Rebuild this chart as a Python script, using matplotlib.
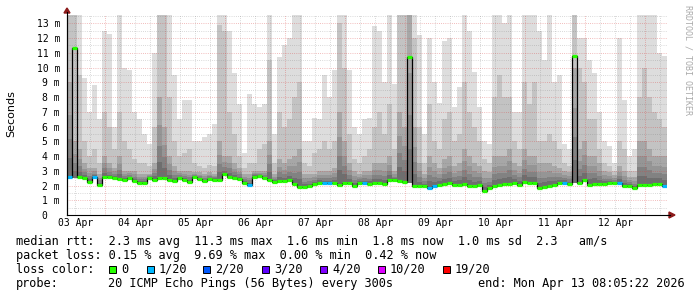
import numpy as np
import matplotlib
matplotlib.use('Agg')
import matplotlib.pyplot as plt
from matplotlib.patches import Rectangle, Polygon

# 2-hour bins, ms (120 bins = 10 days)
med = [2.6, 11.3, 2.55, 2.5, 2.25, 2.55, 2.05, 2.6, 2.55, 2.5,
       2.45, 2.4, 2.5, 2.3, 2.2, 2.15, 2.5, 2.4, 2.5, 2.5,
       2.4, 2.3, 2.5, 2.4, 2.25, 2.55, 2.45, 2.3, 2.45, 2.4,
       2.4, 2.75, 2.6, 2.5, 2.45, 2.2, 2.05, 2.6, 2.65, 2.5,
       2.4, 2.25, 2.3, 2.3, 2.35, 2.1, 1.9, 1.9, 1.95, 2.1,
       2.2, 2.15, 2.15, 2.2, 2.05, 2.2, 2.15, 2.0, 2.2, 2.15,
       2.1, 2.2, 2.2, 2.1, 2.35, 2.35, 2.3, 2.25, 10.7, 2.0,
       1.95, 1.95, 1.85, 1.95, 2.05, 2.1, 2.15, 2.05, 2.05, 2.1,
       2.0, 1.95, 2.05, 1.65, 1.8, 1.95, 2.05, 2.1, 2.1, 2.15,
       2.05, 2.25, 2.2, 2.2, 1.85, 1.9, 2.0, 2.05, 2.15, 2.2,
       2.1, 10.8, 2.2, 2.35, 2.05, 2.1, 2.1, 2.1, 2.15, 2.15,
       2.2, 2.0, 1.95, 1.8, 2.05, 2.05, 2.05, 2.1, 2.1, 1.95]

top = [13.6, 13.6, 13.6, 9.3, 7.0, 8.8, 6.5, 12.5, 12.3, 6.0,
       13.6, 10.0, 9.8, 7.0, 6.5, 5.5, 4.8, 11.0, 13.6, 13.6,
       13.6, 9.5, 6.5, 7.8, 7.8, 5.0, 5.0, 5.3, 5.5, 6.2,
       13.6, 13.6, 12.5, 9.6, 7.5, 4.2, 8.2, 7.5, 7.3, 7.5,
       13.6, 5.5, 10.7, 11.5, 12.0, 13.6, 13.6, 5.0, 5.0, 6.6,
       6.5, 9.5, 8.0, 9.8, 13.6, 13.6, 9.8, 6.0, 5.5, 6.5,
       6.6, 12.8, 12.5, 9.0, 13.6, 8.9, 13.6, 13.6, 13.6, 13.6,
       12.2, 5.5, 12.0, 9.0, 7.6, 11.8, 12.0, 7.3, 8.7, 13.6,
       12.5, 9.7, 7.3, 5.0, 4.8, 13.6, 13.6, 13.0, 13.6, 7.0,
       7.0, 13.6, 13.6, 13.6, 12.5, 10.5, 13.6, 9.0, 9.5, 4.8,
       4.5, 13.6, 12.0, 12.0, 10.5, 9.6, 7.0, 5.0, 4.7, 3.5,
       12.0, 7.8, 4.0, 4.5, 13.6, 13.6, 13.6, 13.6, 11.0, 10.8]

mid = [13.6, 13.6, 9.5, 5.0, 4.0, 4.5, 3.5, 7.0, 6.0, 4.5,
       7.0, 5.0, 4.5, 3.8, 3.5, 3.5, 3.3, 6.0, 13.6, 13.6,
       8.0, 5.0, 4.0, 4.2, 4.5, 3.5, 3.3, 3.2, 3.4, 3.3,
       12.9, 12.5, 7.0, 5.5, 4.0, 3.2, 3.5, 3.5, 4.5, 4.8,
       10.5, 3.5, 7.0, 6.0, 6.5, 8.0, 9.0, 3.5, 3.3, 4.2,
       4.5, 5.0, 4.5, 5.0, 13.0, 10.0, 5.5, 3.8, 3.5, 4.0,
       4.5, 6.0, 7.0, 5.5, 7.5, 4.5, 13.6, 13.6, 13.6, 12.0,
       6.0, 3.5, 7.5, 5.0, 4.5, 6.5, 7.0, 5.0, 5.5, 9.0,
       7.0, 6.0, 5.0, 3.8, 3.5, 8.0, 9.5, 8.0, 8.0, 5.0,
       4.5, 9.0, 7.5, 9.0, 5.0, 5.0, 5.5, 5.0, 4.5, 3.5,
       3.3, 13.6, 10.0, 9.0, 6.5, 6.5, 4.5, 3.5, 3.3, 3.0,
       5.0, 4.5, 3.0, 3.0, 8.0, 10.0, 8.0, 7.0, 6.5, 6.0]

dark = [9.0, 5.0, 4.5, 3.5, 3.2, 3.2, 2.8, 4.0, 3.5, 3.2,
        4.0, 3.0, 3.0, 3.0, 2.8, 2.8, 2.8, 3.5, 8.0, 6.0,
        4.0, 3.3, 3.0, 3.0, 3.0, 2.9, 2.9, 2.8, 2.9, 2.8,
        5.0, 4.0, 4.0, 3.5, 3.2, 2.8, 2.8, 3.0, 3.0, 3.0,
        5.0, 2.8, 3.8, 3.5, 3.8, 4.0, 4.5, 2.8, 2.8, 2.8,
        3.0, 3.0, 3.0, 3.2, 7.0, 5.0, 3.5, 3.0, 2.8, 3.0,
        3.0, 3.5, 3.5, 3.5, 4.0, 3.0, 7.0, 6.0, 13.6, 6.0,
        3.5, 2.8, 4.0, 3.5, 3.2, 3.8, 4.0, 3.3, 3.5, 4.5,
        4.0, 3.5, 3.3, 3.0, 2.9, 4.0, 4.0, 4.0, 4.5, 3.5,
        3.3, 4.5, 4.0, 4.0, 3.5, 3.5, 3.5, 3.3, 3.2, 3.0,
        2.9, 10.0, 4.5, 5.0, 4.0, 4.0, 3.5, 3.0, 2.9, 2.7,
        3.3, 3.0, 2.6, 2.6, 5.0, 5.0, 4.5, 4.0, 4.0, 4.0]

# lost pings (of 20) per bin, only the non-zero ones
loss_bins = [0, 5, 36, 51, 52, 59, 72, 73, 99, 110, 119]
loss_vals = [1, 1, 1, 1, 1, 1, 1, 1, 1, 1, 1]

# lowest ping where the median spikes
spike_bins = [1, 68, 101]
spike_low = [2.5, 2.2, 2.2]

day_labels = ['03 Apr', '04 Apr', '05 Apr', '06 Apr', '07 Apr',
              '08 Apr', '09 Apr', '10 Apr', '11 Apr', '12 Apr']

loss_keys = [0, 1, 2, 3, 4, 10, 19]
loss_names = ['0', '1/20', '2/20', '3/20', '4/20', '10/20', '19/20']
loss_colors = ['#26ff00', '#00b8ff', '#0059ff', '#5e00ff', '#7e00ff',
               '#dd00ff', '#ff0000']

med = np.array(med)
dark = np.array(dark)
low = med.copy()
low[spike_bins] = spike_low
loss = np.zeros(len(med), dtype=int)
loss[loss_bins] = loss_vals

W, H = 697, 297
MONO = 'DejaVu Sans Mono'
fig = plt.figure(figsize=(W / 100, H / 100), dpi=100)
fig.patch.set_facecolor('white')
ax = fig.add_axes([67 / W, 1 - 215 / H, 600 / W, 200 / H])

t0 = 0.36  # days after 03 Apr 00:00
edges = t0 + np.arange(len(med) + 1) / 12.0
ymax = 13.56
ax.set_xlim(t0, t0 + 10)
ax.set_ylim(0, ymax)

# smoke, lighter at the outside, darker towards the median
ax.stairs(top, edges, baseline=low, fill=True, color='#dddddd', lw=0, zorder=1)
ax.stairs(mid, edges, baseline=low, fill=True, color='#c3c3c3', lw=0, zorder=1.1)
ax.stairs(dark, edges, baseline=low, fill=True, color='#a7a7a7', lw=0, zorder=1.2)
for k, (f, c) in enumerate(zip([0.65, 0.4, 0.2], ['#959595', '#828282', '#6e6e6e'])):
    ax.stairs(low + (dark - low) * f, edges, baseline=low, fill=True, color=c,
              lw=0, zorder=1.3 + 0.1 * k)

# grid
dots = (0, (0.72, 1.44))
for v in np.arange(0.5, ymax, 0.5):
    if v % 1 == 0:
        ax.axhline(v, color=(0.85, 0.25, 0.25), alpha=0.45, lw=0.72, ls=dots, zorder=2)
    else:
        ax.axhline(v, color=(0.45, 0.45, 0.45), alpha=0.35, lw=0.72, ls=dots, zorder=2)
for v in np.arange(np.ceil(t0 * 4) / 4, t0 + 10, 0.25):
    if v % 1 == 0:
        ax.axvline(v, color=(0.85, 0.25, 0.25), alpha=0.45, lw=0.72, ls=dots, zorder=2)
    else:
        ax.axvline(v, color=(0.45, 0.45, 0.45), alpha=0.35, lw=0.72, ls=dots, zorder=2)

# median line
ax.stairs(med, edges, baseline=None, color='black', lw=0.9, zorder=4)
seg_cols = [loss_colors[max(i for i, k in enumerate(loss_keys) if k <= n)] for n in loss]
ax.hlines(med, edges[:-1], edges[1:], colors=seg_cols, lw=2.3, zorder=5,
          capstyle='butt')

# axes
for s in ['top', 'right']:
    ax.spines[s].set_visible(False)
for s in ['left', 'bottom']:
    ax.spines[s].set_color('black')
    ax.spines[s].set_linewidth(0.8)
    ax.spines[s].set_zorder(6)

ax.set_yticks(range(14))
ax.set_yticklabels(['0  '] + ['%d m' % i for i in range(1, 14)],
                   family=MONO, fontsize=7)
ax.set_xticks(np.arange(10) + 0.5)
ax.set_xticklabels(day_labels, family=MONO, fontsize=7)
ax.tick_params(axis='y', length=0, pad=5)
ax.tick_params(axis='x', length=0, pad=2.5)


def fx(x):
    return x / W


def fy(y):
    return 1 - y / H


# axis extensions and arrows
fig.add_artist(plt.Line2D([fx(67), fx(67)], [fy(215), fy(12)], color='black', lw=0.8))
fig.add_artist(plt.Line2D([fx(667), fx(670)], [fy(215), fy(215)], color='black', lw=0.8))
fig.add_artist(Polygon([(fx(64), fy(13)), (fx(70), fy(13)), (fx(67), fy(8))],
                       closed=True, color='#8b1a1a', transform=fig.transFigure))
fig.add_artist(Polygon([(fx(669), fy(212)), (fx(669), fy(218)), (fx(675), fy(215))],
                       closed=True, color='#8b1a1a', transform=fig.transFigure))

fig.text(fx(11), fy(114), 'Seconds', rotation=90, ha='center', va='center',
         fontsize=8, family='DejaVu Sans')
fig.text(fx(688), fy(60), 'RRDTOOL / TOBI OETIKER', rotation=-90, ha='center',
         va='center', fontsize=6, family=MONO, color='#aaaaaa')

# legend
fs = 8.55
fig.text(fx(16), fy(245),
         'median rtt:  2.3 ms avg  11.3 ms max  1.6 ms min  1.8 ms now  1.0 ms sd  2.3   am/s',
         family=MONO, fontsize=fs, va='baseline')
fig.text(fx(16), fy(259),
         'packet loss: 0.15 % avg  9.69 % max  0.00 % min  0.42 % now',
         family=MONO, fontsize=fs, va='baseline')
fig.text(fx(16), fy(273), 'loss color:', family=MONO, fontsize=fs, va='baseline')
box_x = [109, 147, 203, 262, 320, 378, 443]
for bx, name, col in zip(box_x, loss_names, loss_colors):
    fig.add_artist(Rectangle((fx(bx), fy(272.5)), 7 / W, 7 / H, facecolor=col,
                             edgecolor='black', lw=0.7, transform=fig.transFigure))
    fig.text(fx(bx + 12), fy(273), name, family=MONO, fontsize=fs, va='baseline')
fig.text(fx(16), fy(287), 'probe:', family=MONO, fontsize=fs, va='baseline')
fig.text(fx(108), fy(287), '20 ICMP Echo Pings (56 Bytes) every 300s',
         family=MONO, fontsize=fs, va='baseline')
fig.text(fx(478), fy(287), 'end: Mon Apr 13 08:05:22 2026',
         family=MONO, fontsize=fs, va='baseline')

fig.savefig('out.png', dpi=100, facecolor='white')
